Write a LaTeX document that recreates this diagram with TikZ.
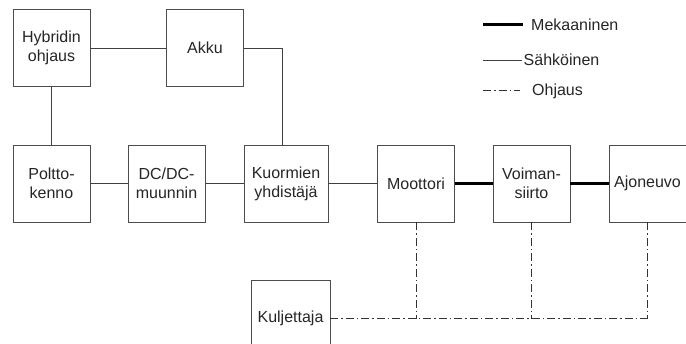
\documentclass[tikz,border=0pt]{standalone}
\usepackage{fontspec}
\setmainfont{Liberation Sans}
\begin{document}
\begin{tikzpicture}[x=1pt,y=-1pt,
  blk/.style={draw=black!70,line width=0.9pt,minimum width=77pt,minimum height=77pt,inner sep=0pt,align=center,font=\fontsize{16}{19}\selectfont,text=black!85},
  elec/.style={draw=black!75,line width=0.9pt},
  mech/.style={draw=black,line width=3pt},
  ctrl/.style={draw=black!80,line width=1pt,dash pattern=on 8pt off 3pt on 1.5pt off 3pt},
  lbl/.style={anchor=west,inner sep=0pt,font=\fontsize{16}{19}\selectfont,text=black!85}]
\useasboundingbox (0,0) rectangle (686,344);
\fill[white] (0,0) rectangle (686,344);
\node[blk] (hyb) at (51.5,48) {Hybridin\\ohjaus};
\node[blk] (akku) at (205,48) {Akku};
\node[blk] (polt) at (51.5,183.5) {Poltto-\\kenno};
\node[blk] (dcdc) at (166.5,183.5) {DC/DC-\\muunnin};
\node[blk,minimum width=84pt] (kuor) at (286,183.5) {Kuormien\\yhdistäjä};
\node[blk] (moot) at (416,183.5) {Moottori};
\node[blk] (voim) at (531.5,183.5) {Voiman-\\siirto};
\node[blk] (ajon) at (647.5,183.5) {Ajoneuvo};
\node[blk,minimum width=79pt] (kulj) at (290.5,318.5) {Kuljettaja};
% electrical
\draw[elec] (hyb) -- (akku);
\coordinate (kt) at (282,145);
\draw[elec] (akku.east) -| (kt);
\draw[elec] (hyb) -- (polt);
\draw[elec] (polt) -- (dcdc);
\draw[elec] (dcdc) -- (kuor);
\draw[elec] (kuor) -- (moot);
% mechanical
\draw[mech] (moot) -- (voim);
\draw[mech] (voim) -- (ajon);
% control
\coordinate (k1) at (416,319);
\coordinate (k2) at (531.5,319);
\coordinate (k3) at (647.5,319);
\draw[ctrl] (kulj.east |- k1) -- (k3);
\draw[ctrl] (moot.south) -- (k1);
\draw[ctrl] (voim.south) -- (k2);
\draw[ctrl] (ajon.south) -- (k3);
% legend
\coordinate (l1a) at (483,25); \coordinate (l1b) at (523,25);
\coordinate (l2a) at (483,60); \coordinate (l2b) at (522,60);
\coordinate (l3a) at (483,91); \coordinate (l3b) at (520,91);
\draw[mech] (l1a) -- (l1b);
\draw[elec] (l2a) -- (l2b);
\draw[ctrl] (l3a) -- (l3b);
\node[lbl] (t1) at (531,25) {Mekaaninen};
\node[lbl] (t2) at (523.5,60) {Sähköinen};
\node[lbl] (t3) at (532,91) {Ohjaus};
\end{tikzpicture}
\end{document}
